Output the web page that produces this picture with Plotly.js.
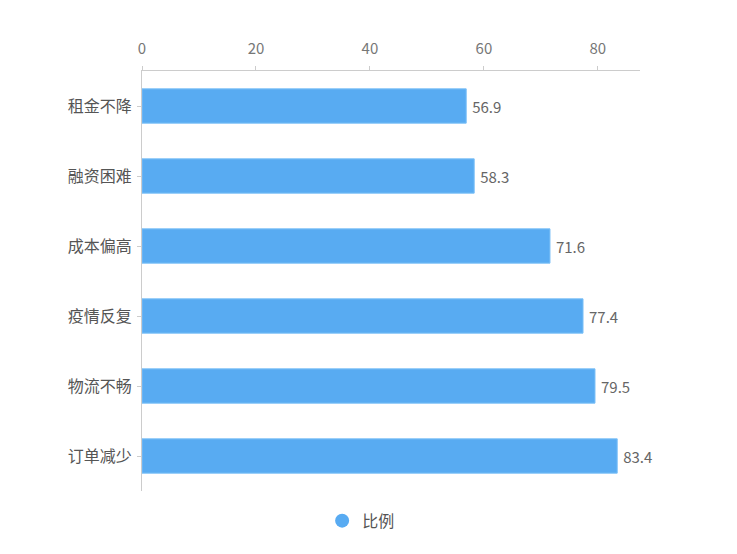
<!DOCTYPE html>
<html>
<head>
<meta charset="utf-8">
<script src="https://cdn.plot.ly/plotly-3.0.1.min.js"></script>
<style>
  html, body { margin: 0; padding: 0; background: #fff; }
  #chart { width: 737px; height: 554px; }
</style>
</head>
<body>
<div id="chart"></div>
<script>
// Reasons, top to bottom, and their share (%)
const categories = ['租金不降', '融资困难', '成本偏高', '疫情反复', '物流不畅', '订单减少'];
const ratio = [56.9, 58.3, 71.6, 77.4, 79.5, 83.4];
const seriesName = '比例';
const xTicks = [0, 20, 40, 60, 80];

const barColor = '#58abf2';
const font = '"Noto Sans CJK SC", "Noto Sans", sans-serif';

const bars = {
    type: 'bar',
    orientation: 'h',
    y: categories,
    x: ratio,
    width: 0.49,
    marker: { color: barColor, line: { color: '#7cc0f7', width: 1 } },
    // thin leading space keeps the value a few px off the bar end
    text: ratio.map((v) => '\u2009' + v.toFixed(1)),
    textposition: 'outside',
    textfont: { color: '#666', size: 15, family: font },
    cliponaxis: false,
    showlegend: false,
    hoverinfo: 'x+y',
};

// legend entry only: a bar trace gets a square swatch, the original has a dot
const legendDot = {
    type: 'scatter',
    mode: 'markers',
    x: [null],
    y: [null],
    name: seriesName,
    marker: { color: barColor, size: 14, symbol: 'circle' },
    showlegend: true,
};

const layout = {
    width: 737,
    height: 554,
    paper_bgcolor: '#fff',
    plot_bgcolor: '#fff',
    font: { family: font, color: '#555', size: 15 },
    margin: { l: 142, r: 97, t: 71, b: 63 },
    xaxis: {
        side: 'top',
        range: [0, 87.4],
        tickvals: xTicks,
        showgrid: false,
        zeroline: false,
        showline: true,
        linecolor: '#ccc',
        linewidth: 1,
        ticks: 'outside',
        ticklen: 4,
        tickcolor: '#ccc',
        ticklabelstandoff: 6,
        tickfont: { color: '#777', size: 15 },
        fixedrange: true,
    },
    yaxis: {
        autorange: 'reversed',
        showgrid: false,
        zeroline: false,
        showline: true,
        linecolor: '#ccc',
        linewidth: 1,
        ticks: 'outside',
        ticklen: 4,
        tickcolor: '#ccc',
        ticklabelstandoff: 2,
        tickfont: { color: '#555', size: 16 },
        fixedrange: true,
    },
    showlegend: true,
    legend: {
        orientation: 'h',
        xref: 'container',
        yref: 'container',
        x: 0.49,
        xanchor: 'center',
        y: 0.06,
        yanchor: 'middle',
        font: { size: 16, color: '#555' },
    },
};

Plotly.newPlot('chart', [bars, legendDot], layout, { displayModeBar: false, staticPlot: true });
</script>
</body>
</html>
